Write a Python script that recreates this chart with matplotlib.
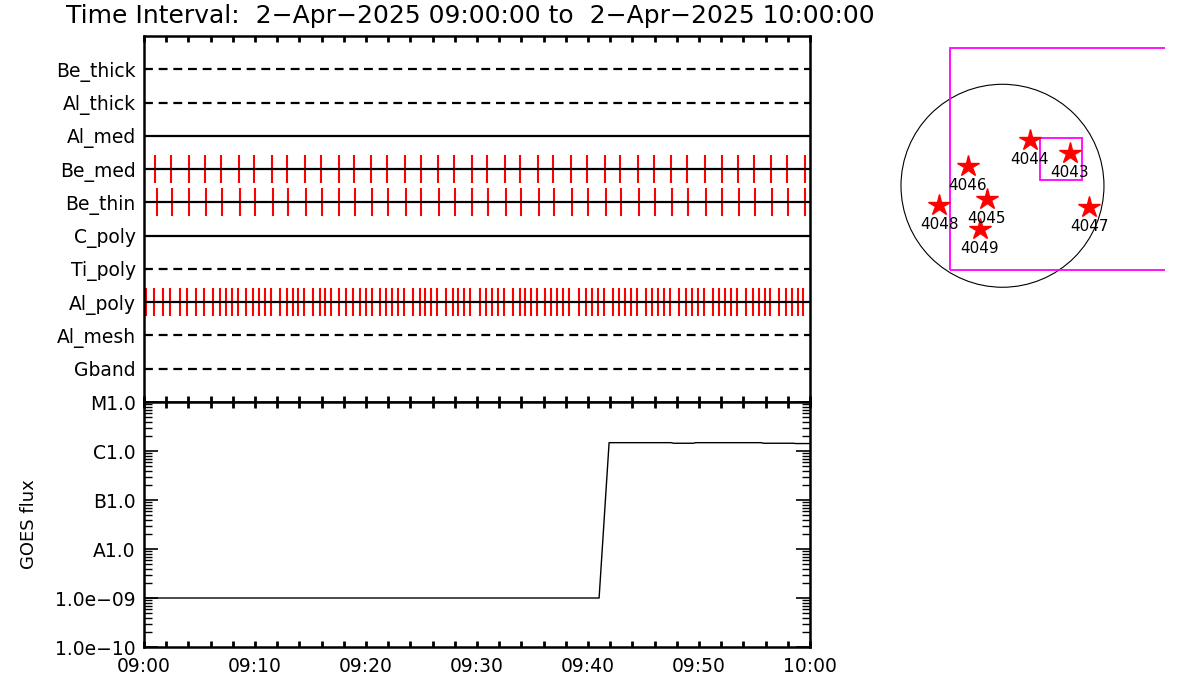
import datetime as dt

import matplotlib
matplotlib.use('Agg')
import matplotlib.pyplot as plt
import matplotlib.dates as mdates
from matplotlib.patches import Circle, Rectangle
from matplotlib.ticker import FixedLocator, LogLocator, NullFormatter

# filter rows, top to bottom, and whether the filter line is dashed
filters = ['Be_thick', 'Al_thick', 'Al_med', 'Be_med', 'Be_thin',
           'C_poly', 'Ti_poly', 'Al_poly', 'Al_mesh', 'Gband']
dashed = [True, True, False, False, False, False, True, False, True, True]

# exposure times, minutes after 09:00
be_med_times = [1.02, 2.46, 4.03, 5.52, 6.96, 8.59, 9.94, 11.56, 12.91, 14.53,
                15.97, 17.59, 18.95, 20.48, 21.89, 23.54, 24.98, 26.51, 27.95, 29.52,
                30.93, 32.55, 33.90, 35.52, 36.87, 38.50, 39.94, 41.56, 42.91, 44.53,
                45.97, 47.50, 48.95, 50.57, 52.10, 53.54, 54.98, 56.51, 57.95, 59.58]
be_thin_times = [1.20, 2.55, 4.08, 5.61, 7.05, 8.68, 10.03, 11.65, 13.00, 14.62,
                 16.06, 17.59, 19.04, 20.57, 22.01, 23.63, 24.98, 26.60, 28.05, 29.58,
                 31.02, 32.64, 33.99, 35.61, 36.96, 38.59, 40.03, 41.65, 43.00, 44.62,
                 46.06, 47.59, 49.04, 50.66, 52.10, 53.63, 55.07, 56.60, 58.04, 59.58]
al_poly_times = [0.21, 0.93, 1.74, 2.37, 3.27, 3.90, 4.71, 5.43, 6.24, 6.87,
                 7.41, 7.95, 8.50, 9.22, 9.85, 10.39, 10.93, 11.47, 12.28, 12.91,
                 13.45, 13.90, 14.44, 15.25, 15.88, 16.33, 16.87, 17.59, 18.23, 18.86,
                 19.49, 20.03, 20.57, 21.29, 21.83, 22.37, 22.91, 23.45, 24.26, 24.89,
                 25.34, 25.88, 26.42, 27.23, 27.86, 28.32, 28.86, 29.40, 30.30, 30.84,
                 31.38, 31.92, 32.46, 33.27, 33.90, 34.35, 34.89, 35.43, 36.15, 36.69,
                 37.23, 37.77, 38.32, 39.22, 39.85, 40.39, 40.93, 41.47, 42.28, 42.82,
                 43.36, 43.90, 44.44, 45.25, 45.79, 46.33, 46.87, 47.41, 48.23, 48.86,
                 49.40, 49.94, 50.48, 51.29, 51.83, 52.37, 52.91, 53.45, 54.26, 54.89,
                 55.43, 55.97, 56.42, 57.23, 57.86, 58.41, 58.95, 59.40]
exposures = {'Be_med': be_med_times, 'Be_thin': be_thin_times, 'Al_poly': al_poly_times}

# GOES flux
goes_times = [0.0, 41.0, 41.9, 47.5, 47.7, 49.5, 49.7, 55.6, 55.8, 58.5, 58.7, 60.0]
goes_flux = [1e-9, 1e-9, 1.48e-6, 1.48e-6, 1.44e-6, 1.44e-6, 1.48e-6, 1.48e-6,
             1.44e-6, 1.44e-6, 1.42e-6, 1.42e-6]
goes_ticks = [1e-10, 1e-9, 1e-8, 1e-7, 1e-6, 1e-5]
goes_labels = ['1.0e\u221210', '1.0e\u221209', 'A1.0', 'B1.0', 'C1.0', 'M1.0']

# active regions, arcsec from disk centre
noaa_ids = ['4044', '4043', '4046', '4045', '4048', '4049', '4047']
ar_x = [260, 639, -329, -150, -598, -213, 821]
ar_y = [433, 313, 187, -128, -179, -412, -198]
sun_radius = 960
fov_big = (-497, -797, 2400, 2098)   # x0, y0, width, height
fov_small = (358, 52, 397, 397)

t0 = dt.datetime(2025, 4, 2, 9, 0, 0)
def to_dt(mins):
    return [t0 + dt.timedelta(minutes=m) for m in mins]

plt.rcParams['font.family'] = ['DejaVu Sans']
fig = plt.figure(figsize=(12, 7), dpi=100)

fig.text(66 / 1200, 1 - 16 / 700,
         'Time Interval:  2\u2212Apr\u22122025 09:00:00 to  2\u2212Apr\u22122025 10:00:00',
         ha='left', va='center', fontsize=18)

ax1 = fig.add_axes([0.12, 0.4257, 0.555, 0.5229])
ax2 = fig.add_axes([0.12, 0.0757, 0.555, 0.35], sharex=ax1)

nrow = len(filters)
for i, (name, dsh) in enumerate(zip(filters, dashed)):
    row = nrow - i
    if name in exposures:
        ax1.vlines(to_dt(exposures[name]), row - 0.42, row + 0.42,
                   color='red', lw=1.5, zorder=2)
    ls = (0, (4, 2.6)) if dsh else '-'
    ax1.plot(to_dt([0, 60]), [row, row], color='black', lw=1.6, ls=ls, zorder=3)

ax1.set_ylim(0, nrow + 1)
ax1.set_yticks(range(nrow, 0, -1))
ax1.set_yticklabels(filters, fontsize=13.5)
ax1.tick_params(axis='y', length=0, pad=6)

ax2.plot(to_dt(goes_times), goes_flux, color='black', lw=1.0)
ax2.set_yscale('log')
ax2.set_ylim(1e-10, 1e-5)
ax2.yaxis.set_major_locator(FixedLocator(goes_ticks))
ax2.set_yticklabels(goes_labels, fontsize=13.5)
ax2.yaxis.set_minor_locator(LogLocator(base=10, subs=range(2, 10)))
ax2.yaxis.set_minor_formatter(NullFormatter())
ax2.set_ylabel('GOES flux', fontsize=13, labelpad=12)
ax2.tick_params(axis='y', which='major', direction='in', length=10, width=1.2,
                left=True, right=True, pad=6)
ax2.tick_params(axis='y', which='minor', direction='in', length=6, width=1,
                left=True, right=True)

ax2.set_xlim(t0, t0 + dt.timedelta(hours=1))
ax2.xaxis.set_major_locator(mdates.MinuteLocator(byminute=range(0, 60, 10)))
ax2.xaxis.set_minor_locator(mdates.MinuteLocator(byminute=range(0, 60, 2)))
ax2.xaxis.set_major_formatter(mdates.DateFormatter('%H:%M'))
for ax in (ax1, ax2):
    ax.tick_params(axis='x', which='major', direction='in', length=4, width=2,
                   top=True, bottom=True, labelsize=13.5, pad=7)
    ax.tick_params(axis='x', which='minor', direction='in', length=4, width=2,
                   top=True, bottom=True)
    for sp in ax.spines.values():
        sp.set_linewidth(1.8)
ax1.tick_params(axis='x', which='both', labelbottom=False)

# solar disk map
axm = fig.add_axes([0.7458, 0.5786, 0.225, 0.3643])
axm.set_xlim(-1017, 1537)
axm.set_ylim(-1033, 1379)
axm.set_aspect('equal')
axm.axis('off')
axm.add_patch(Circle((0, 0), sun_radius, fill=False, color='black', lw=0.8))
axm.add_patch(Rectangle(fov_big[:2], fov_big[2], fov_big[3], fill=False,
                        edgecolor='magenta', lw=1.3, clip_on=True))
axm.add_patch(Rectangle(fov_small[:2], fov_small[2], fov_small[3], fill=False,
                        edgecolor='magenta', lw=1.3))
axm.plot(ar_x, ar_y, ls='none', marker='*', ms=16, color='red', mec='red')
for name, x, y in zip(noaa_ids, ar_x, ar_y):
    axm.annotate(name, (x, y), xytext=(0, -14), textcoords='offset points',
                 ha='center', va='center', fontsize=11)

fig.savefig('out.png', dpi=100)
